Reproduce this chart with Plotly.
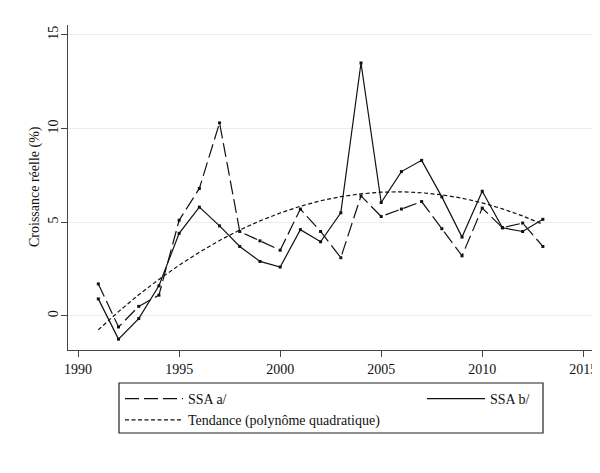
import plotly.graph_objects as go

years = list(range(1991, 2014))
ssa_a = [1.7, -0.6, 0.5, 1.1, 5.1, 6.8, 10.3, 4.5, 4.0, 3.5, 5.7, 4.5, 3.1,
         6.4, 5.3, 5.7, 6.1, 4.65, 3.2, 5.75, 4.7, 4.95, 3.7]
ssa_b = [0.9, -1.25, -0.15, 1.6, 4.4, 5.8, 4.8, 3.7, 2.9, 2.6, 4.6, 3.95, 5.5,
         13.5, 6.05, 7.7, 8.3, 6.35, 4.2, 6.65, 4.7, 4.5, 5.15]
trend = [-0.75, 0.22, 1.12, 1.94, 2.70, 3.39, 4.02, 4.58, 5.07, 5.49, 5.85, 6.14,
         6.36, 6.51, 6.60, 6.62, 6.57, 6.46, 6.28, 6.03, 5.71, 5.33, 4.88]
x_ticks = [1990, 1995, 2000, 2005, 2010, 2015]
y_ticks = [0, 5, 10, 15]

FONT = "Liberation Serif"
INK = "#111111"

fig = go.Figure()
fig.add_trace(go.Scatter(x=years, y=ssa_a, mode="lines", name="SSA a/",
                         line=dict(color=INK, width=1.2, dash="14px,5px"),
                         legend="legend", legendgroup="a"))
fig.add_trace(go.Scatter(x=years, y=trend, mode="lines",
                         name="Tendance (polynôme quadratique)",
                         line=dict(color=INK, width=1.2, dash="4px,2.5px"),
                         legend="legend", legendgroup="t"))
fig.add_trace(go.Scatter(x=years, y=ssa_b, mode="lines", name="SSA b/",
                         line=dict(color=INK, width=1.2),
                         legend="legend2", legendgroup="b"))
fig.add_trace(go.Scatter(x=years, y=ssa_a, mode="markers", showlegend=False,
                         marker=dict(symbol="square", size=3, color=INK),
                         legendgroup="a", hoverinfo="skip"))
fig.add_trace(go.Scatter(x=years, y=ssa_b, mode="markers", showlegend=False,
                         marker=dict(symbol="square", size=3, color=INK),
                         legendgroup="b", hoverinfo="skip"))

# page is offset by the 8px body margin
OFF = 8
PAGE_W, PAGE_H = 600, 473
W, H = PAGE_W - OFF, PAGE_H - OFF
# plot area in page pixels
PX0, PX1, PY0, PY1 = 68, 595, 25, 350
L, R, T, B = PX0 - OFF, PAGE_W - PX1, PY0 - OFF, PAGE_H - PY1
pw, ph = PX1 - PX0, PY1 - PY0

def px_x(p):
    return (p - PX0) / pw

def px_y(p):
    return (PY1 - p) / ph

fig.update_layout(
    width=W, height=H,
    margin=dict(l=L, r=R, t=T, b=B, autoexpand=False),
    paper_bgcolor="white", plot_bgcolor="white",
    font=dict(family=FONT, size=14, color=INK),
    showlegend=True,
    legend=dict(x=px_x(120), y=px_y(383), xanchor="left", yanchor="top",
                orientation="v", bgcolor="rgba(0,0,0,0)", borderwidth=0,
                itemwidth=58,
                font=dict(family=FONT, size=14, color=INK), tracegroupgap=0),
    legend2=dict(x=px_x(422), y=px_y(383), xanchor="left", yanchor="top",
                 orientation="v", bgcolor="rgba(0,0,0,0)", borderwidth=0,
                 itemwidth=58,
                 font=dict(family=FONT, size=14, color=INK)),
    shapes=[dict(type="rect", xref="paper", yref="paper",
                 x0=px_x(119), x1=px_x(543), y0=px_y(433), y1=px_y(383),
                 line=dict(color="#222222", width=1.2), fillcolor="rgba(0,0,0,0)")],
    annotations=[dict(text="Croissance réelle (%)", xref="paper", yref="paper",
                      x=px_x(35), y=px_y(187), textangle=-90, showarrow=False,
                      xanchor="center", yanchor="middle",
                      font=dict(family=FONT, size=14, color=INK))],
)
fig.update_xaxes(range=[1989.5, 2015.58], tickvals=x_ticks,
                 ticktext=[str(v) for v in x_ticks],
                 showgrid=False, zeroline=False, showline=True, linecolor="#444444",
                 linewidth=1.2, ticks="outside", ticklen=6, tickcolor="#444444",
                 tickfont=dict(family=FONT, size=14, color=INK))
fig.update_yaxes(range=[-1.83, 15.53], tickvals=y_ticks,
                 ticktext=[str(v) for v in y_ticks], tickangle=-90,
                 ticklabelstandoff=-3,
                 showgrid=True, gridcolor="#e6eeef", gridwidth=1, zeroline=False,
                 showline=True, linecolor="#444444", linewidth=1.2,
                 ticks="outside", ticklen=6, tickcolor="#444444",
                 tickfont=dict(family=FONT, size=14, color=INK))

fig.write_html("out.html")
